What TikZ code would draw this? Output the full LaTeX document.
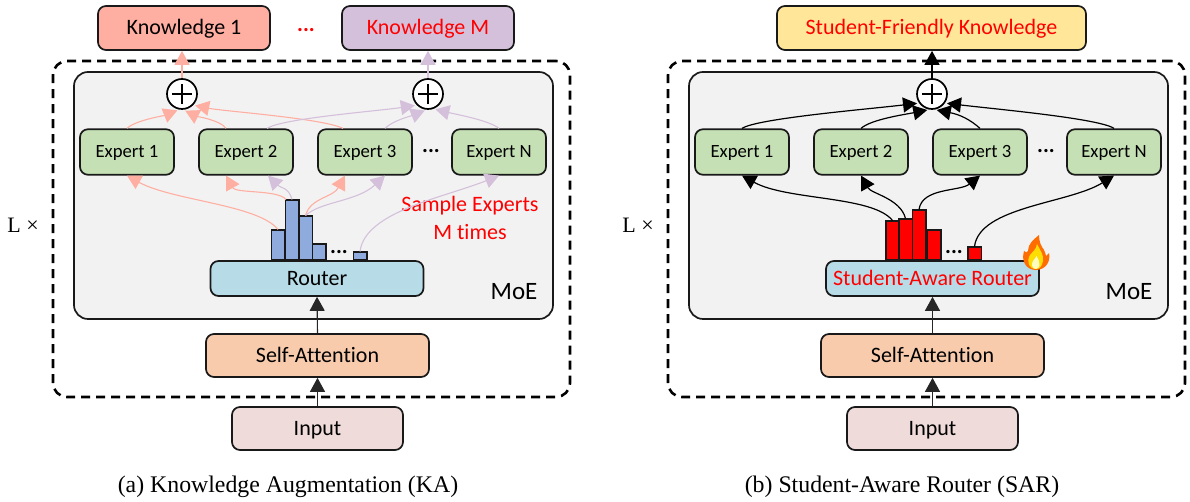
\documentclass[tikz,border=0pt]{standalone}
\usepackage{fontspec}
\setmainfont[Ligatures=NoCommon]{Carlito}
\newfontfamily\capfont{Liberation Serif}
\usetikzlibrary{arrows.meta}

\definecolor{pinkline}{HTML}{FFAFA2}
\definecolor{purpline}{HTML}{D5C0DB}
\definecolor{expfill}{HTML}{C5E0B4}
\definecolor{routfill}{HTML}{B7DBE7}
\definecolor{attnfill}{HTML}{F8CBAD}
\definecolor{inpfill}{HTML}{EFDCDA}
\definecolor{moefill}{HTML}{F2F2F2}
\definecolor{barfill}{HTML}{8FAADC}
\definecolor{knowyel}{HTML}{FFE699}
\tikzset{
  x=1pt, y=1pt,
  box/.style={draw=black!90, line width=1.7pt, rounded corners=8pt, inner sep=0pt, text height=19pt, text depth=5pt, font=\fontsize{22}{25}\selectfont},
  expert/.style={box, fill=expfill, minimum width=94pt, minimum height=45.5pt, text height=17pt, text depth=5pt, font=\fontsize{18.7}{21}\selectfont},
  router/.style={box, fill=routfill, minimum width=213pt, minimum height=35pt},
  attn/.style={box, fill=attnfill, minimum width=223pt, minimum height=43pt},
  inbox/.style={box, fill=inpfill, minimum width=171pt, minimum height=43pt},
  know/.style={box, minimum height=44pt},
  moe/.style={draw=black!90, line width=1.7pt, rounded corners=14pt, fill=moefill, minimum width=479pt, minimum height=247pt, inner sep=0pt},
  dashbox/.style={draw=black, line width=2.6pt, dash pattern=on 9pt off 6pt, rounded corners=14pt, minimum width=517pt, minimum height=336pt, inner sep=0pt},
  plusnode/.style={circle, draw=black, line width=1.7pt, fill=white, minimum size=30pt, inner sep=0pt},
  bar/.style={draw=black!90, line width=1.5pt, anchor=south, minimum width=13.5pt, inner sep=0pt},
  txt/.style={inner sep=0pt, font=\fontsize{22}{25}\selectfont},
  dotstxt/.style={inner sep=0pt, font=\fontsize{22}{25}\bfseries\selectfont},
  captxt/.style={inner sep=0pt, font=\capfont\fontsize{23.8}{26}\selectfont},
  up/.style={-{Triangle[length=14pt,width=15pt]}, line width=1.1pt, black!85},
  pinkarrow/.style={-{Triangle[length=14pt,width=15pt]}, line width=1.1pt, pinkline},
  purparrow/.style={-{Triangle[length=14pt,width=15pt]}, line width=1.1pt, purpline},
  blackarrow/.style={-{Triangle[length=14pt,width=15pt]}, line width=1.2pt, black},
}

\begin{document}
\begin{tikzpicture}
  \useasboundingbox (0,0) rectangle (1190,502);

  % (a) knowledge augmentation
  \node[dashbox] (dashA) at (311.5,273) {};
  \node[moe] (moeA) at (313.5,306.5) {};
  \node[know, fill=pinkline, minimum width=172pt] (knowA1) at (184,474) {Knowledge 1};
  \node[know, fill=purpline, minimum width=172pt, text=red] (knowAM) at (428,474) {Knowledge M};
  \node[dotstxt, text=red] (dotsK) at (306,472) {...};
  \node[plusnode] (plusA1) at (182,408) {};
  \node[plusnode] (plusAM) at (428,408) {};
  \foreach \n/\xc/\lab in {1/127/Expert 1, 2/246/Expert 2, 3/365/Expert 3, N/499/Expert N}
    \node[expert] (expA\n) at (\xc,350) {\lab};
  \node[dotstxt] (dotsA) at (431,351) {...};
  \node[router] (routA) at (317,223.5) {Router};
  \node[attn] (attnA) at (317.5,146.5) {Self-Attention};
  \node[inbox] (inA) at (317.5,73.5) {Input};
  \foreach \n/\xc/\h in {1/278/30, 2/292/60, 3/305.5/44, 4/319/16, 5/360/8}
    \node[bar, fill=barfill, minimum height=\h pt] (barA\n) at (\xc,241) {};
  \node[dotstxt] (dotsBarA) at (339,250) {...};
  \node[txt, text=red] (sampleA) at (470,296) {Sample Experts};
  \node[txt, text=red] (timesA) at (470,270) {M times};
  \node[txt, font=\fontsize{25}{28}\selectfont] (moeLabA) at (514,210) {MoE};
  \node[captxt, font=\capfont\fontsize{22}{25}\selectfont] (lA) at (23,277) {L ×};
  \node[captxt] (capA) at (288,15) {(a) Knowledge Augmentation (KA)};

  \draw[up] (inA.north) -- (attnA.south);
  \draw[up] (attnA.north) -- (routA.south);
  \draw[pinkarrow] (plusA1.north) -- (plusA1.north |- knowA1.south);
  \draw[purparrow] (plusAM.north) -- (plusAM.north |- knowAM.south);

  \draw[pinkarrow, shorten >=2pt] (expA1.north) .. controls +(8,8) and +(-15,-6) .. (plusA1.-100);
  \draw[pinkarrow, shorten >=2pt] ([xshift=-20pt]expA2.north) .. controls +(-5,8) and +(12,-6) .. (plusA1.-85);
  \draw[pinkarrow, shorten >=2pt] ([xshift=-22pt]expA3.north) .. controls +(-20,10) and +(30,-6) .. (plusA1.-45);
  \draw[purparrow, shorten >=2pt] ([xshift=21pt]expA2.north) .. controls +(15,10) and +(-40,-6) .. (plusAM.-135);
  \draw[purparrow, shorten >=2pt] ([xshift=20pt]expA3.north) .. controls +(8,8) and +(-15,-6) .. (plusAM.-95);
  \draw[purparrow, shorten >=2pt] (expAN.north) .. controls +(-10,8) and +(25,-6) .. (plusAM.-70);

  \draw[pinkarrow] (barA1.north) .. controls +(-20,25) and +(45,-25) .. (expA1.south);
  \draw[pinkarrow] ([xshift=-6pt]barA2.north) .. controls +(-8,10) and +(10,-18) .. ([xshift=-20pt]expA2.south);
  \draw[purparrow] (barA2.north) .. controls +(-3,12) and +(12,-12) .. ([xshift=22pt]expA2.south);
  \draw[pinkarrow] (barA3.north) .. controls +(5,18) and +(-12,-22) .. ([xshift=-20pt]expA3.south);
  \draw[purparrow] (barA3.north) .. controls +(15,14) and +(-28,-26) .. ([xshift=20pt]expA3.south);
  \draw[purparrow] (barA5.north) .. controls +(5,40) and +(-55,-22) .. (expAN.south);

  % (b) student-aware router
  \node[dashbox] (dashB) at (926.5,273) {};
  \node[moe] (moeB) at (928.5,306.5) {};
  \node[know, fill=knowyel, minimum width=309pt, text=red] (knowB) at (931.5,474) {Student-Friendly Knowledge};
  \node[plusnode] (plusB) at (932,408) {};
  \foreach \n/\xc/\lab in {1/742/Expert 1, 2/861/Expert 2, 3/980/Expert 3, N/1114/Expert N}
    \node[expert] (expB\n) at (\xc,350) {\lab};
  \node[dotstxt] (dotsB) at (1046,351) {...};
  \node[router, text=red] (routB) at (932.5,223.5) {Student-Aware Router};
  \node[attn] (attnB) at (932.5,146.5) {Self-Attention};
  \node[inbox] (inB) at (932.5,73.5) {Input};
  \foreach \n/\xc/\h in {1/892.5/39, 2/905.5/41, 3/919/50, 4/934/30, 5/974.5/13}
    \node[bar, fill=red, minimum height=\h pt] (barB\n) at (\xc,241) {};
  \node[dotstxt] (dotsBarB) at (954,250) {...};
  \node[txt, font=\fontsize{25}{28}\selectfont] (moeLabB) at (1129,210) {MoE};
  \node[captxt, font=\capfont\fontsize{22}{25}\selectfont] (lB) at (638,277) {L ×};
  \node[captxt] (capB) at (902,15) {(b) Student-Aware Router (SAR)};

  \draw[up] (inB.north) -- (attnB.south);
  \draw[up] (attnB.north) -- (routB.south);
  \draw[blackarrow] (plusB.north) -- (knowB.south -| plusB.north);

  \draw[blackarrow, shorten >=2pt] (expB1.north) .. controls +(15,10) and +(-50,-6) .. (plusB.-145);
  \draw[blackarrow, shorten >=2pt] (expB2.north) .. controls +(10,9) and +(-25,-5) .. (plusB.-100);
  \draw[blackarrow, shorten >=2pt] (expB3.north) .. controls +(-10,9) and +(25,-5) .. (plusB.-80);
  \draw[blackarrow, shorten >=2pt] (expBN.north) .. controls +(-15,10) and +(50,-6) .. (plusB.-35);

  \draw[blackarrow] (barB1.north) .. controls +(-20,25) and +(45,-25) .. (expB1.south);
  \draw[blackarrow] (barB2.north) .. controls +(-5,20) and +(10,-18) .. (expB2.south);
  \draw[blackarrow] (barB3.north) .. controls +(3,22) and +(-20,-16) .. (expB3.south);
  \draw[blackarrow] (barB5.north) .. controls +(5,40) and +(-45,-28) .. (expBN.south);

  % plus signs
  \foreach \p in {plusA1,plusAM,plusB} {
    \draw[line width=1.4pt] ([xshift=-10pt]\p.center) -- ([xshift=10pt]\p.center);
    \draw[line width=1.4pt] ([yshift=-10pt]\p.center) -- ([yshift=10pt]\p.center);
  }

  % flame
  \fill[orange!85!red] (1036,232) .. controls (1026,232) and (1021,241) .. (1024,251)
    .. controls (1026,249) and (1027,249) .. (1028,251) .. controls (1028,258) and (1033,262) .. (1039,267)
    .. controls (1039,260) and (1041,256) .. (1044,252) .. controls (1045,250) and (1046,247) .. (1046,246)
    .. controls (1047,247) and (1048,248) .. (1049,249) .. controls (1051,240) and (1045,232) .. (1036,232) -- cycle;
  \fill[yellow!80!orange] (1036,233) .. controls (1029,233) and (1026,240) .. (1030,247)
    .. controls (1033,251) and (1036,252) .. (1037,258) .. controls (1040,252) and (1044,247) .. (1043,241)
    .. controls (1042,236) and (1040,233) .. (1036,233) -- cycle;
  \fill[yellow!25] (1036,233) .. controls (1032,233) and (1031,238) .. (1033,241)
    .. controls (1034,243) and (1036,244) .. (1036.5,246) .. controls (1038,243) and (1040,240) .. (1039.5,237)
    .. controls (1039,235) and (1038,233) .. (1036,233) -- cycle;
\end{tikzpicture}
\end{document}
